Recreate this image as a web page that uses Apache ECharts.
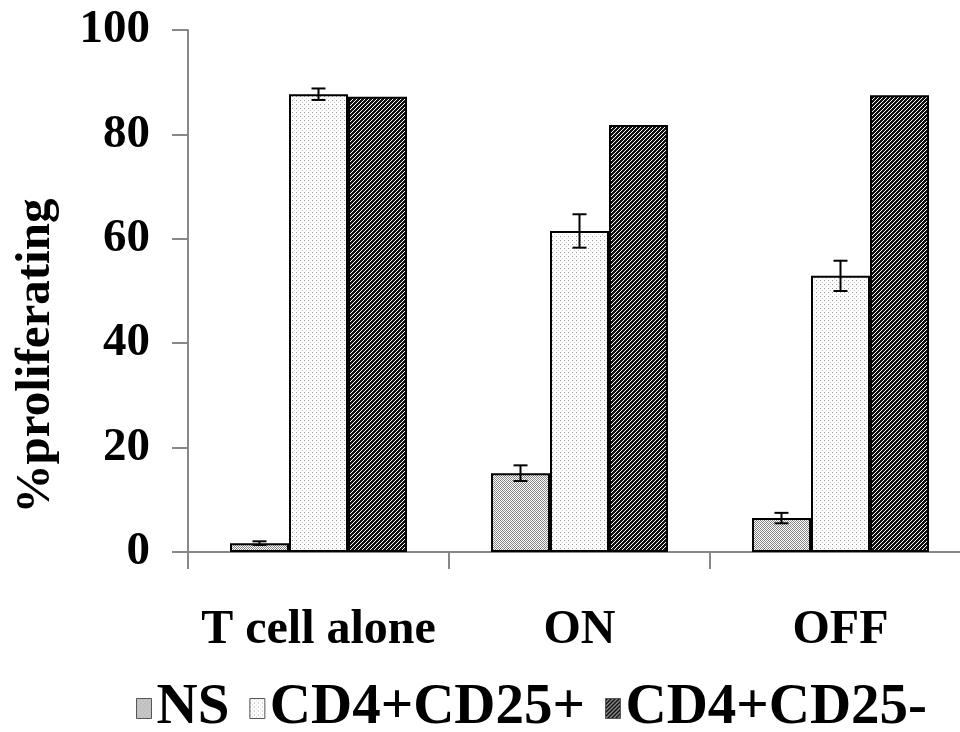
<!DOCTYPE html>
<html>
<head>
<meta charset="utf-8">
<title>%proliferating</title>
<script src="https://cdn.jsdelivr.net/npm/echarts@6/dist/echarts.min.js"></script>
<style>
	html,body{margin:0;padding:0;background:#fff}
	#main{width:960px;height:732px}
</style>
</head>
<body>
<div id="main"></div>
<script>
var categories = ['T cell alone', 'ON', 'OFF'];
var seriesNames = ['NS', 'CD4+CD25+', 'CD4+CD25-'];
var nsValues = [1.7, 15.1, 6.5];
var nsErrors = [0.35, 1.5, 1.0];
var posValues = [87.7, 61.5, 52.9];
var posErrors = [1.1, 3.2, 2.9];
var negValues = [87.2, 81.8, 87.5];
var yTicks = [0, 20, 40, 60, 80, 100];

var FONT = '"Liberation Serif", "Times New Roman", serif';
var BAR_W = 59;

// little canvas tiles for the hatch fills
function tile(size, bg, dots) {
	var c = document.createElement('canvas');
	c.width = size; c.height = size;
	var ctx = c.getContext('2d');
	ctx.fillStyle = bg;
	ctx.fillRect(0, 0, size, size);
	dots.forEach(function (d) {
		ctx.fillStyle = d[2];
		ctx.fillRect(d[0], d[1], 1, 1);
	});
	return c;
}
var nsTile = tile(4, '#ffffff', [
	[0,0,'#777'],[2,0,'#999'],[1,1,'#888'],[3,1,'#888'],
	[0,2,'#999'],[2,2,'#777'],[1,3,'#888'],[3,3,'#888']
]);
var posTile = tile(4, '#ffffff', [[0,0,'#9a9a9a'],[2,2,'#d0d0d0']]);
var negTile = tile(4, '#111111', [[3,0,'#fff'],[2,1,'#fff'],[1,2,'#fff'],[0,3,'#fff']]);

function pattern(c) { return {image: c, repeat: 'repeat'}; }

function errSeries(vals, errs, idx) {
	var data = vals.map(function (v, i) { return [i, v, errs[i]]; });
	return {
		type: 'custom',
		z: 5,
		silent: true,
		data: data,
		renderItem: function (params, api) {
			var x = api.value(0), v = api.value(1), e = api.value(2);
			var hi = api.coord([x, v + e]);
			var lo = api.coord([x, v - e]);
			var cx = hi[0] + (idx - 1) * BAR_W;
			var half = 7;
			var st = {stroke: '#000', lineWidth: 2};
			return {
				type: 'group',
				children: [
					{type: 'line', shape: {x1: cx, y1: hi[1], x2: cx, y2: lo[1]}, style: st},
					{type: 'line', shape: {x1: cx - half, y1: hi[1], x2: cx + half, y2: hi[1]}, style: st},
					{type: 'line', shape: {x1: cx - half, y1: lo[1], x2: cx + half, y2: lo[1]}, style: st}
				]
			};
		}
	};
}

var chart = echarts.init(document.getElementById('main'));
var option = {
	animation: false,
	textStyle: {fontFamily: FONT},
	grid: {left: 188, top: 30, bottom: 180, width: 783, outerBoundsMode: 'none', containLabel: false},
	legend: {
		data: seriesNames,
		left: 131,
		top: 675,
		icon: 'rect',
		itemWidth: 15,
		itemHeight: 20,
		itemGap: 20,
		itemStyle: {borderColor: '#555', borderWidth: 1},
		textStyle: {fontFamily: FONT, fontSize: 57, fontWeight: 'bold', color: '#000'}
	},
	graphic: [{
		type: 'text',
		x: 36,
		y: 356,
		rotation: Math.PI / 2,
		style: {
			text: '%proliferating',
			font: 'bold 49px ' + FONT,
			fill: '#000',
			textAlign: 'center',
			textVerticalAlign: 'middle'
		}
	}],
	xAxis: {
		type: 'category',
		data: categories,
		axisLine: {lineStyle: {color: '#888', width: 2}},
		axisTick: {show: true, interval: 0, length: 17, lineStyle: {color: '#888', width: 2}},
		axisLabel: {
			interval: 0,
			margin: 55,
			color: '#000',
			fontFamily: FONT,
			fontSize: 48,
			fontWeight: 'bold'
		}
	},
	yAxis: {
		type: 'value',
		min: yTicks[0],
		max: yTicks[yTicks.length - 1],
		interval: yTicks[1] - yTicks[0],
		splitLine: {show: false},
		axisLine: {show: true, lineStyle: {color: '#888', width: 2}},
		axisTick: {show: true, length: 16, lineStyle: {color: '#888', width: 2}},
		axisLabel: {
			margin: 38,
			color: '#000',
			fontFamily: FONT,
			fontSize: 47,
			fontWeight: 'bold'
		}
	},
	series: [
		{
			name: seriesNames[0], type: 'bar', data: nsValues,
			barWidth: BAR_W, barGap: '0%',
			itemStyle: {color: pattern(nsTile), borderColor: '#000', borderWidth: 2}
		},
		{
			name: seriesNames[1], type: 'bar', data: posValues,
			barWidth: BAR_W, barGap: '0%',
			itemStyle: {color: pattern(posTile), borderColor: '#000', borderWidth: 2}
		},
		{
			name: seriesNames[2], type: 'bar', data: negValues,
			barWidth: BAR_W, barGap: '0%',
			itemStyle: {color: pattern(negTile), borderColor: '#000', borderWidth: 2}
		},
		errSeries(nsValues, nsErrors, 0),
		errSeries(posValues, posErrors, 1)
	]
};
chart.setOption(option);
</script>
</body>
</html>
